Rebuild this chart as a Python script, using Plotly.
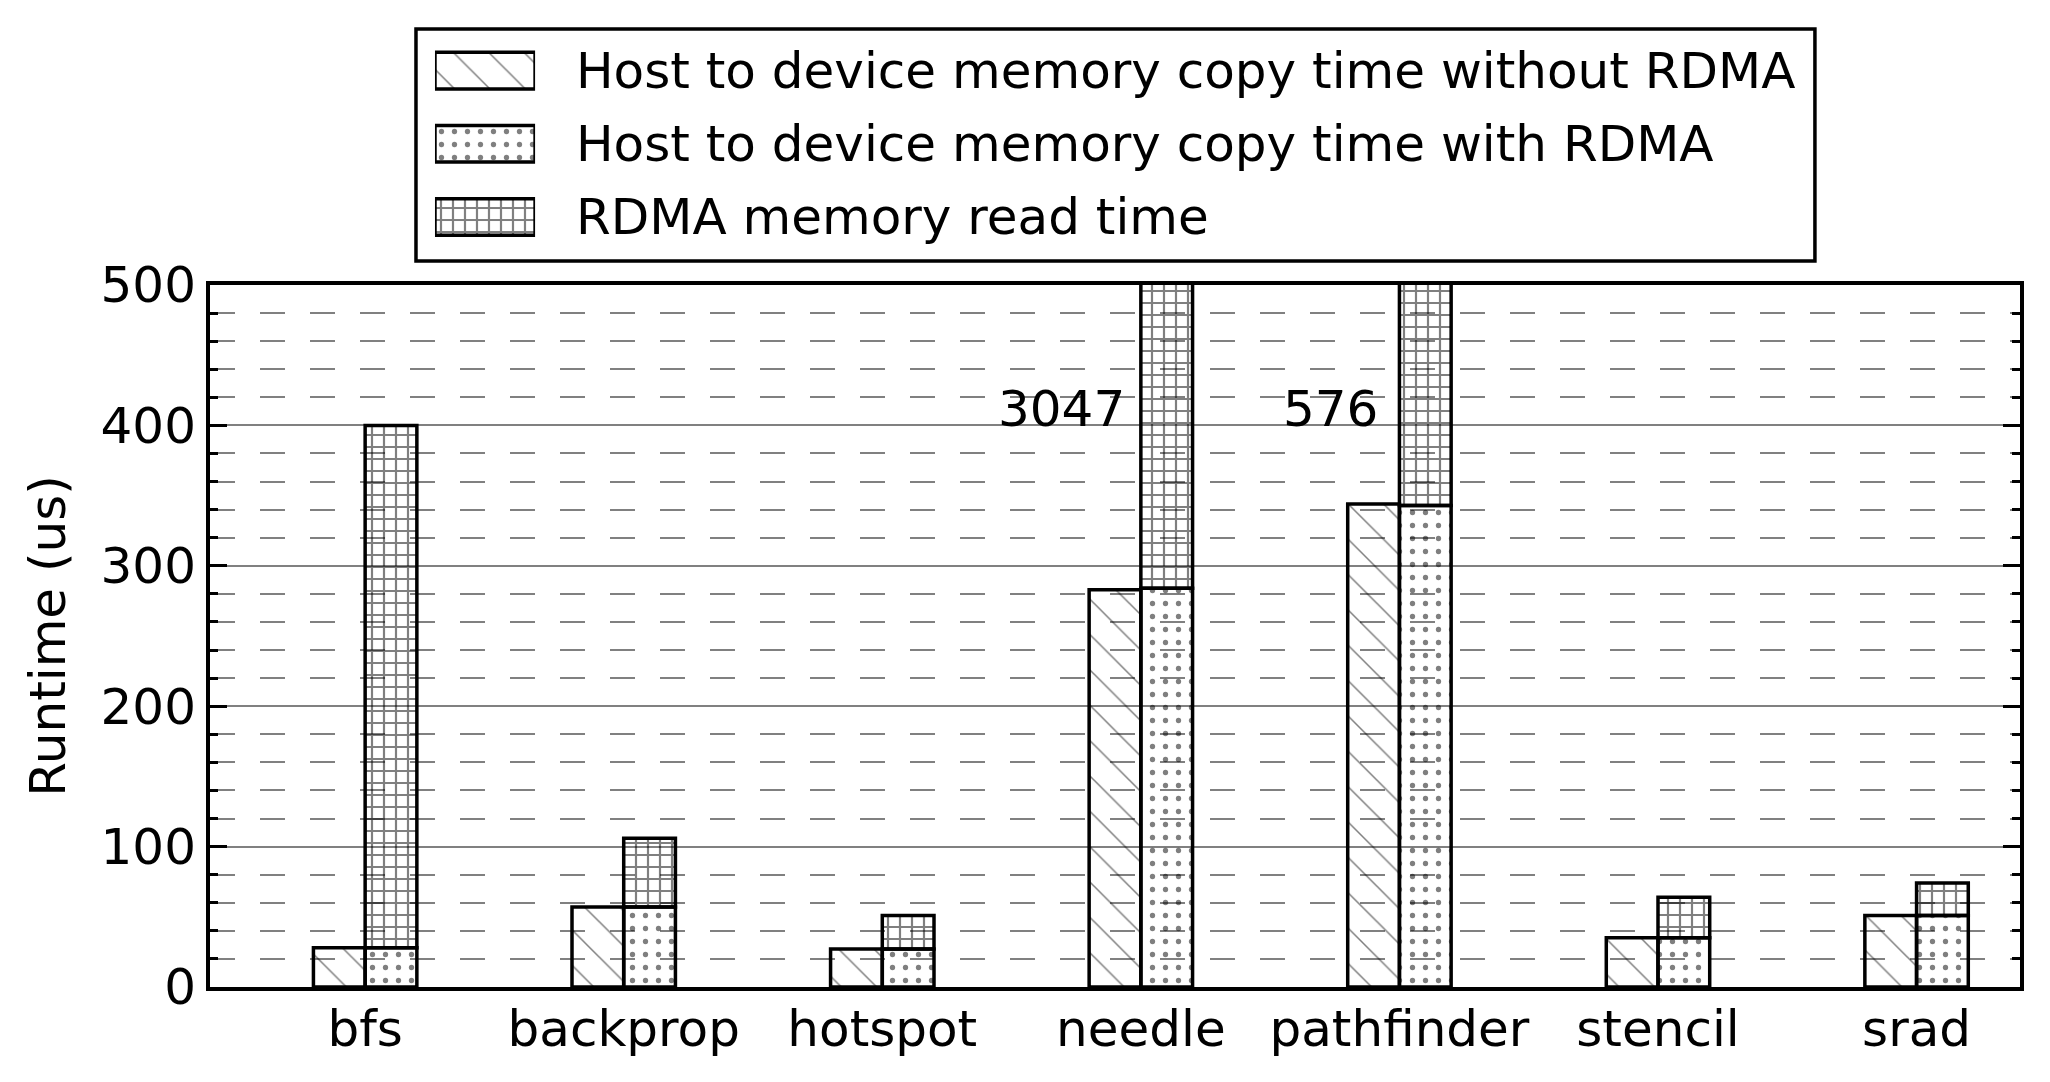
import plotly.graph_objects as go

# ---------------- data ----------------
categories = ["bfs", "backprop", "hotspot", "needle", "pathfinder", "stencil", "srad"]
h2d_without_rdma = [28, 57, 27, 283, 344, 35, 51]
h2d_with_rdma = [28, 57, 27, 284, 343, 35, 51]
rdma_read = [372, 49, 24, 2763, 233, 29, 23]
clipped_labels = {"needle": "3047", "pathfinder": "576"}
series_names = [
    "Host to device memory copy time without RDMA",
    "Host to device memory copy time with RDMA",
    "RDMA memory read time",
]
y_title = "Runtime (us)"

# ---------------- style ----------------
FONT = "DejaVu Sans"
FS = 50
GRAY = "#808080"
CLEAR = "rgba(0,0,0,0)"
bar_line = dict(color="black", width=3.5)
patterns = [
    dict(shape="\\", size=25, solidity=0.06, fgcolor="black", bgcolor=CLEAR, fillmode="overlay"),
    dict(shape=".", size=13, solidity=0.13, fgcolor="black", bgcolor=CLEAR, fillmode="overlay"),
    dict(shape="+", size=12, solidity=0.33, fgcolor="black", bgcolor=CLEAR, fillmode="overlay"),
]
label_offsets = {"needle": -0.055, "pathfinder": -0.075}

x_idx = list(range(len(categories)))
fig = go.Figure()

fig.add_trace(go.Bar(
    x=x_idx, y=h2d_without_rdma, width=0.2, offset=-0.2, name=series_names[0],
    marker=dict(color=CLEAR, line=bar_line, pattern=patterns[0]), showlegend=False))
fig.add_trace(go.Bar(
    x=x_idx, y=h2d_with_rdma, width=0.2, offset=0.0, name=series_names[1],
    marker=dict(color=CLEAR, line=bar_line, pattern=patterns[1]), showlegend=False))
fig.add_trace(go.Bar(
    x=x_idx, y=rdma_read, base=h2d_with_rdma, width=0.2, offset=0.0, name=series_names[2],
    marker=dict(color=CLEAR, line=bar_line, pattern=patterns[2]), showlegend=False))

# custom legend swatches (drawn on an auxiliary hidden axis pair)
for k, name in enumerate(series_names):
    fig.add_trace(go.Bar(
        x=[1], y=[k], base=0, orientation="h", width=0.5, name=name,
        xaxis="x2", yaxis="y2", showlegend=False, hoverinfo="skip",
        marker=dict(color="white", line=bar_line, pattern=patterns[k])))

annotations = []
for k, name in enumerate(series_names):
    annotations.append(dict(
        x=0.2011, xref="paper", y=k, yref="y2", text=name, showarrow=False,
        xanchor="left", yanchor="middle", font=dict(family=FONT, size=FS, color="black")))

for cat, txt in clipped_labels.items():
    i = categories.index(cat)
    annotations.append(dict(
        x=i + label_offsets[cat], xref="x", y=412, yref="y", text=txt, showarrow=False,
        xanchor="right", yanchor="middle", font=dict(family=FONT, size=FS, color="black")))

fig.update_layout(
    width=2050, height=1082,
    margin=dict(l=210, r=30, t=20, b=95, autoexpand=False),
    paper_bgcolor="white", plot_bgcolor="white",
    barmode="overlay",
    font=dict(family=FONT, size=FS, color="black"),
    showlegend=False,
    xaxis=dict(
        range=[-0.6, 6.4], tickvals=x_idx, ticktext=categories, ticks="",
        ticklabelstandoff=-5,
        showline=True, linecolor="black", linewidth=4, mirror=True,
        showgrid=False, zeroline=False, tickfont=dict(family=FONT, size=FS, color="black"),
        automargin=False, anchor="y"),
    yaxis=dict(
        domain=[0, 0.72596], range=[0, 500], tick0=0, dtick=100,
        ticks="inside", ticklen=17, tickwidth=2.5, tickcolor="black",
        showgrid=True, gridcolor=GRAY, gridwidth=1.5,
        minor=dict(dtick=20, ticks="inside", ticklen=8, tickwidth=2.5, tickcolor="black",
                   showgrid=True, gridcolor=GRAY, gridwidth=2, griddash="25px,25px"),
        showline=True, linecolor="black", linewidth=4, mirror="ticks",
        zeroline=False, layer="above traces",
        tickfont=dict(family=FONT, size=FS, color="black"),
        title=dict(text=y_title, font=dict(family=FONT, size=FS, color="black"), standoff=20),
        automargin=False, anchor="x"),
    xaxis2=dict(domain=[0.1243, 0.1796], range=[0, 1], visible=False, anchor="y2", fixedrange=True),
    yaxis2=dict(domain=[0.7585, 0.9855], range=[2.5, -0.5], visible=False, anchor="x2", fixedrange=True),
    annotations=annotations,
    shapes=[dict(type="rect", xref="paper", yref="paper", x0=0.1138, x1=0.8867,
                 y0=0.7508, y1=0.9907, line=dict(color="black", width=3.5), fillcolor=CLEAR)],
)

fig.write_html("out.html")
